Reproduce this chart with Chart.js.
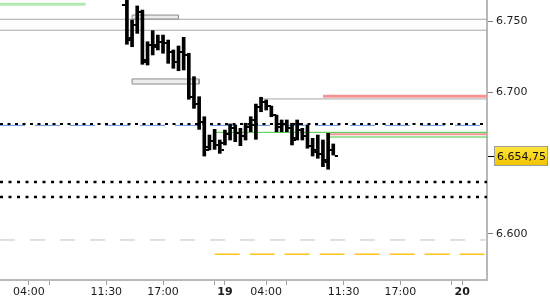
<!DOCTYPE html>
<html><head><meta charset="utf-8">
<script src="https://cdn.jsdelivr.net/npm/chart.js@4.4.1/dist/chart.umd.min.js"></script>
<style>html,body{margin:0;padding:0;background:#fff;}canvas{display:block;}</style>
</head><body>
<canvas id="c" width="550" height="300"></canvas>
<script>
// ---------- DATA ----------
const barTimes = ['18 13:30','18 14:00','18 14:30','18 15:00','18 15:30','18 16:00','18 16:30','18 17:00','18 17:30','18 18:00','18 18:30','18 19:00','18 19:30','18 20:00','18 20:30','18 21:00','18 21:30','18 23:00','18 23:30','19 00:00','19 00:30','19 01:00','19 01:30','19 02:00','19 02:30','19 03:00','19 03:30','19 04:00','19 04:30','19 05:00','19 05:30','19 06:00','19 06:30','19 07:00','19 07:30','19 08:00','19 08:30','19 09:00','19 09:30','19 10:00','19 10:30'];
const opens  = [6761.3,6736.6,6747.2,6756.3,6722.5,6733.1,6733.1,6735.2,6734.5,6728.2,6721.1,6728.2,6726.1,6696.5,6691.5,6678.9,6661.3,6665.5,6662.7,6664.1,6670.4,6674.6,6671.1,6669.0,6675.4,6676.8,6689.4,6693.0,6690.1,6683.8,6675.4,6677.5,6674.6,6667.6,6673.2,6669.0,6662.0,6659.2,6656.3,6652.1,6659.2];
const highs  = [6766.9,6750.7,6760.6,6757.7,6735.4,6743.2,6740.1,6740.1,6736.6,6729.6,6732.4,6738.5,6727.3,6710.8,6696.7,6682.6,6669.7,6673.7,6666.2,6673.2,6677.5,6676.8,6674.4,6678.0,6682.6,6691.5,6696.3,6694.4,6690.1,6683.8,6680.3,6680.3,6678.0,6680.3,6674.4,6676.8,6667.4,6669.7,6666.2,6670.9,6663.4];
const lows   = [6733.6,6731.9,6741.3,6719.5,6719.0,6726.1,6729.6,6727.3,6720.2,6716.7,6715.0,6715.5,6694.9,6688.5,6673.7,6654.9,6659.2,6659.6,6656.8,6662.7,6666.2,6665.0,6662.2,6666.2,6672.0,6666.7,6686.1,6687.3,6682.6,6672.0,6672.0,6672.0,6662.7,6666.2,6666.2,6660.4,6654.9,6653.3,6647.4,6645.6,6655.6];
const closes = [6738.0,6747.2,6756.3,6721.3,6733.1,6731.7,6735.2,6734.5,6728.2,6721.1,6728.2,6726.1,6696.5,6691.5,6678.9,6659.2,6665.5,6662.7,6659.2,6670.4,6674.6,6671.1,6669.0,6675.4,6680.3,6689.4,6693.0,6690.1,6683.8,6675.4,6677.5,6674.6,6666.2,6677.5,6669.0,6662.0,6657.7,6656.3,6650.7,6659.2,6654.75];
const lastPrice = 6654.75;

const xTickTimes  = ['18 04:00','18 06:00','18 11:30','18 17:00','18 23:00','19 00:00','19 04:00','19 06:00','19 11:30','19 17:00','19 23:00','20 00:00'];
const xTickLabels = ['04:00','','11:30','17:00','','19','04:00','','11:30','17:00','','20'];
const boldLabels  = ['19','20'];
const yTickValues = [6600, 6700, 6750];

// horizontal levels (price, start time, end time; null = chart edge)
const levelPrices = [6761.8, 6751.2, 6743.5, 6677.5, 6676.5, 6671.6, 6695.1, 6697.0, 6670.2, 6668.3, 6636.6, 6626.1, 6595.8, 6585.7];
const levelFrom   = [null, null, null, null, null, '18 23:00', '19 03:30', '19 09:30', '19 10:00', '19 10:00', null, null, null, '18 23:00'];
const levelTo     = ['18 09:30', null, null, null, null, null, null, null, null, null, null, null, null, null];

// zones (boxes)
const zoneFrom = ['18 14:00', '18 14:00'];
const zoneTo   = ['18 18:30', '18 20:30'];
const zoneHigh = [6754.2, 6709.2];
const zoneLow  = [6751.4, 6705.6];

// ---------- HELPERS ----------
function sessionHour(s){
  const [d, hm] = s.split(' ');
  const [h, m] = hm.split(':').map(Number);
  let hr = h + m/60;
  if (hr >= 23) hr -= 1;           // 22:00-23:00 break removed
  return (Number(d) - 18) * 23 + hr;
}
function fmt(v, dec){
  const s = Number(v).toFixed(dec || 0);
  let [i, f] = s.split('.');
  i = i.replace(/\B(?=(\d{3})+(?!\d))/g, '.');
  return f ? i + ',' + f : i;
}
const X_MIN = 1.2, X_MAX = 48.4;

const levelStyles = [
  {c:'#b3e9b3', w:3, d:[]},
  {c:'#a8a8a8', w:1, d:[]},
  {c:'#a8a8a8', w:1, d:[]},
  {c:'#000000', w:2, d:[3,4.5]},
  {c:'#5f90dc', w:1, d:[25,10]},
  {c:'#3fc83f', w:1, d:[]},
  {c:'#a8a8a8', w:1, d:[]},
  {c:'#f39393', w:3, d:[]},
  {c:'#f39393', w:2, d:[]},
  {c:'#3fc83f', w:1, d:[]},
  {c:'#000000', w:2.5, d:[3,5.5]},
  {c:'#000000', w:2.5, d:[3,5.5]},
  {c:'#d6d6d6', w:1.5, d:[15,15]},
  {c:'#ffc21a', w:1.5, d:[25,10]}
];

function tickCanvas(side){
  const cv = document.createElement('canvas');
  cv.width = 9; cv.height = 2;
  const g = cv.getContext('2d');
  g.fillStyle = '#000';
  g.fillRect(side === 'left' ? 0 : 6, 0, 3, 2);
  return cv;
}

const datasets = [];
datasets.push({type:'bar', data: barTimes.map((t,i)=>({x:sessionHour(t), y:[lows[i], highs[i]]})),
  backgroundColor:'#000', borderWidth:0, barThickness:3, grouped:false, order:0});
datasets.push({type:'scatter', data: barTimes.map((t,i)=>({x:sessionHour(t), y:opens[i]})),
  pointStyle: tickCanvas('left'), pointRadius:3, order:0});
datasets.push({type:'scatter', data: barTimes.map((t,i)=>({x:sessionHour(t), y:closes[i]})),
  pointStyle: tickCanvas('right'), pointRadius:3, order:0});

levelPrices.forEach((p,i)=>{
  const st = levelStyles[i];
  const x0 = levelFrom[i] ? sessionHour(levelFrom[i]) : X_MIN;
  const x1 = levelTo[i] ? sessionHour(levelTo[i]) : X_MAX;
  datasets.push({type:'line', data:[{x:x0,y:p},{x:x1,y:p}], borderColor:st.c, borderWidth:st.w,
    borderDash:st.d, pointRadius:0, fill:false, borderCapStyle:'butt', order:5 + (i===3?-1:0)});
});
zoneFrom.forEach((f,i)=>{
  const x0 = sessionHour(f), x1 = sessionHour(zoneTo[i]);
  datasets.push({type:'line', data:[{x:x0,y:zoneHigh[i]},{x:x1,y:zoneHigh[i]}], borderWidth:0,
    borderColor:'rgba(0,0,0,0)', backgroundColor:'#ececec', fill:{value:zoneLow[i]}, pointRadius:0, order:3});
  datasets.push({type:'line', data:[{x:x0,y:zoneHigh[i]},{x:x1,y:zoneHigh[i]},{x:x1,y:zoneLow[i]},{x:x0,y:zoneLow[i]},{x:x0,y:zoneHigh[i]}],
    borderColor:'#8c8c8c', borderWidth:1, pointRadius:0, fill:false, order:2});
});

const priceTag = {
  id:'priceTag',
  afterDraw(chart){
    const {ctx, scales:{y}, chartArea} = chart;
    const py = Math.round(y.getPixelForValue(lastPrice));
    ctx.save();
    ctx.strokeStyle = '#000'; ctx.lineWidth = 1;
    ctx.beginPath(); ctx.moveTo(chartArea.right + 1, py + 0.5); ctx.lineTo(chartArea.right + 7, py + 0.5); ctx.stroke();
    const x0 = chartArea.right + 7, w = 54, h = 20;
    const g = ctx.createLinearGradient(0, py - h/2, 0, py + h/2);
    g.addColorStop(0, '#ffe83a'); g.addColorStop(1, '#f2c200');
    ctx.fillStyle = g; ctx.fillRect(x0, py - h/2, w, h);
    ctx.strokeStyle = '#9c9c9c'; ctx.strokeRect(x0 + 0.5, py - h/2 + 0.5, w - 1, h - 1);
    ctx.fillStyle = '#111'; ctx.font = '11px "DejaVu Sans"';
    ctx.textBaseline = 'middle'; ctx.textAlign = 'left';
    ctx.fillText(fmt(lastPrice, 2), x0 + 3, py + 1);
    ctx.restore();
  }
};

Chart.defaults.font.family = '"DejaVu Sans", Verdana, sans-serif';
Chart.defaults.font.size = 11;

function noPad(s){ s.paddingTop = 0; s.paddingBottom = 0; s.paddingLeft = 0; s.paddingRight = 0; }

new Chart(document.getElementById('c'), {
  type:'bar',
  data:{datasets},
  options:{
    responsive:false, animation:false, devicePixelRatio:1,
    layout:{padding:0, autoPadding:false},
    plugins:{legend:{display:false}, tooltip:{enabled:false}},
    scales:{
      x:{type:'linear', min:X_MIN, max:X_MAX, offset:false,
        afterBuildTicks: s => { s.ticks = xTickTimes.map(t => ({value: sessionHour(t)})); },
        afterFit: s => { s.height = 20; noPad(s); },
        border:{display:true, color:'#b8b8b8', width:2},
        grid:{drawOnChartArea:false, offset:false, drawTicks:true, tickLength:5, tickColor:'#a0a0a0', tickWidth:1},
        ticks:{autoSkip:false, maxRotation:0, minRotation:0, padding:1, color:'#1c1c1c',
          callback:(v,i) => xTickLabels[i],
          font: ctx => ({family:'"DejaVu Sans", Verdana, sans-serif', size:11,
            weight: (ctx.tick && boldLabels.includes(ctx.tick.label)) ? 'bold' : 'normal'})}
      },
      y:{type:'linear', position:'right', min:6567.6, max:6764.8,
        afterBuildTicks: s => { s.ticks = yTickValues.map(v => ({value:v})); },
        afterFit: s => { s.width = 63; noPad(s); },
        border:{display:true, color:'#b8b8b8', width:2},
        grid:{drawOnChartArea:false, drawTicks:true, tickLength:6, tickColor:'#808080', tickWidth:1},
        ticks:{padding:3, color:'#1c1c1c', callback: v => fmt(v)}
      }
    }
  },
  plugins:[priceTag]
});
</script>
</body></html>
